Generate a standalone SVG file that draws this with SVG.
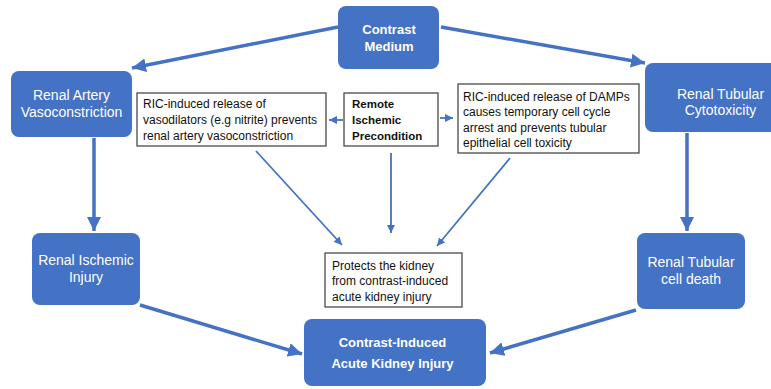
<svg xmlns="http://www.w3.org/2000/svg" width="771" height="389" viewBox="0 0 771 389">
<style>
.bb{fill:#4472C4;}
.wb{fill:#ffffff;stroke:#3a3a3a;stroke-width:1.2;}
.bt{font-family:"Liberation Sans",Arial,sans-serif;font-size:14px;fill:#ffffff;text-anchor:middle;}
.bbt{font-family:"Liberation Sans",Arial,sans-serif;font-size:13px;font-weight:bold;fill:#ffffff;text-anchor:middle;}
.st{font-family:"Liberation Sans",Arial,sans-serif;font-size:12px;fill:#111111;}
.sbt{font-family:"Liberation Sans",Arial,sans-serif;font-size:11.5px;font-weight:bold;fill:#111111;}
.thick{stroke:#4472C4;stroke-width:3.5;fill:none;marker-end:url(#ah);}
.thin{stroke:#4472C4;stroke-width:1.8;fill:none;marker-end:url(#ahs);}
</style>
<defs>
<marker id="ah" markerUnits="userSpaceOnUse" markerWidth="16" markerHeight="14" refX="14" refY="7" orient="auto">
<path d="M0,0 L14,7 L0,14 Z" fill="#4472C4"/>
</marker>
<marker id="ahs" markerUnits="userSpaceOnUse" markerWidth="9" markerHeight="8" refX="8" refY="4" orient="auto">
<path d="M0,0 L8,4 L0,8 Z" fill="#4472C4"/>
</marker>
</defs>
<rect width="771" height="389" fill="#ffffff"/>
<g id="connectors">
<line class="thick" x1="338" y1="27" x2="132" y2="68"/>
<line class="thick" x1="441" y1="27" x2="645" y2="63"/>
<line class="thick" x1="94" y1="138" x2="94" y2="231"/>
<line class="thick" x1="140" y1="305" x2="302" y2="354"/>
<line class="thick" x1="687" y1="133" x2="687" y2="231"/>
<line class="thick" x1="636" y1="310" x2="490" y2="353"/>
<line class="thin" x1="343" y1="120" x2="329" y2="120"/>
<line class="thin" x1="440" y1="118" x2="453" y2="118"/>
<line class="thin" x1="256" y1="151" x2="342" y2="245"/>
<line class="thin" x1="391" y1="153" x2="391" y2="233"/>
<line class="thin" x1="510" y1="158" x2="437" y2="246"/>
</g>
<g id="contrast-medium">
<rect class="bb" x="338" y="6" width="101" height="63" rx="8"/>
<text class="bbt" x="389" y="34">Contrast</text>
<text class="bbt" x="389" y="51">Medium</text>
</g>
<g id="renal-artery">
<rect class="bb" x="11" y="71" width="121" height="66" rx="8"/>
<text class="bt" x="71.5" y="100">Renal Artery</text>
<text class="bt" x="71.5" y="117">Vasoconstriction</text>
</g>
<g id="renal-tubular-cytotoxicity">
<rect class="bb" x="645" y="63" width="160" height="69" rx="8"/>
<text class="bt" x="720.5" y="99">Renal Tubular</text>
<text class="bt" x="720.5" y="115">Cytotoxicity</text>
</g>
<g id="ric-vasodilators">
<rect class="wb" x="137" y="93" width="189" height="53"/>
<text class="st" x="143" y="107.5">RIC-induced release of</text>
<text class="st" x="143" y="123.5">vasodilators (e.g nitrite) prevents</text>
<text class="st" x="143" y="139.5">renal artery vasoconstriction</text>
</g>
<g id="remote-ischemic">
<rect class="wb" x="344" y="93" width="94" height="53"/>
<text class="sbt" x="352" y="107.5">Remote</text>
<text class="sbt" x="352" y="123.5">Ischemic</text>
<text class="sbt" x="352" y="139.5">Precondition</text>
</g>
<g id="ric-damps">
<rect class="wb" x="458" y="84" width="181" height="69"/>
<text class="st" x="463" y="100.5">RIC-induced release of DAMPs</text>
<text class="st" x="463" y="116">causes temporary cell cycle</text>
<text class="st" x="463" y="131.5">arrest and prevents tubular</text>
<text class="st" x="463" y="147">epithelial cell toxicity</text>
</g>
<g id="renal-ischemic-injury">
<rect class="bb" x="32" y="233" width="108" height="72" rx="8"/>
<text class="bt" x="86" y="265">Renal Ischemic</text>
<text class="bt" x="86" y="282">Injury</text>
</g>
<g id="protects">
<rect class="wb" x="325" y="253" width="137" height="54"/>
<text class="st" x="332" y="269.5">Protects the kidney</text>
<text class="st" x="332" y="285">from contrast-induced</text>
<text class="st" x="332" y="300.5">acute kidney injury</text>
</g>
<g id="renal-tubular-cell-death">
<rect class="bb" x="637" y="233" width="108" height="76" rx="8"/>
<text class="bt" x="691" y="267">Renal Tubular</text>
<text class="bt" x="691" y="284">cell death</text>
</g>
<g id="ci-aki">
<rect class="bb" x="304" y="319" width="182" height="67" rx="8"/>
<text class="bbt" x="392.5" y="347">Contrast-Induced</text>
<text class="bbt" x="392.5" y="368">Acute Kidney Injury</text>
</g>
</svg>
